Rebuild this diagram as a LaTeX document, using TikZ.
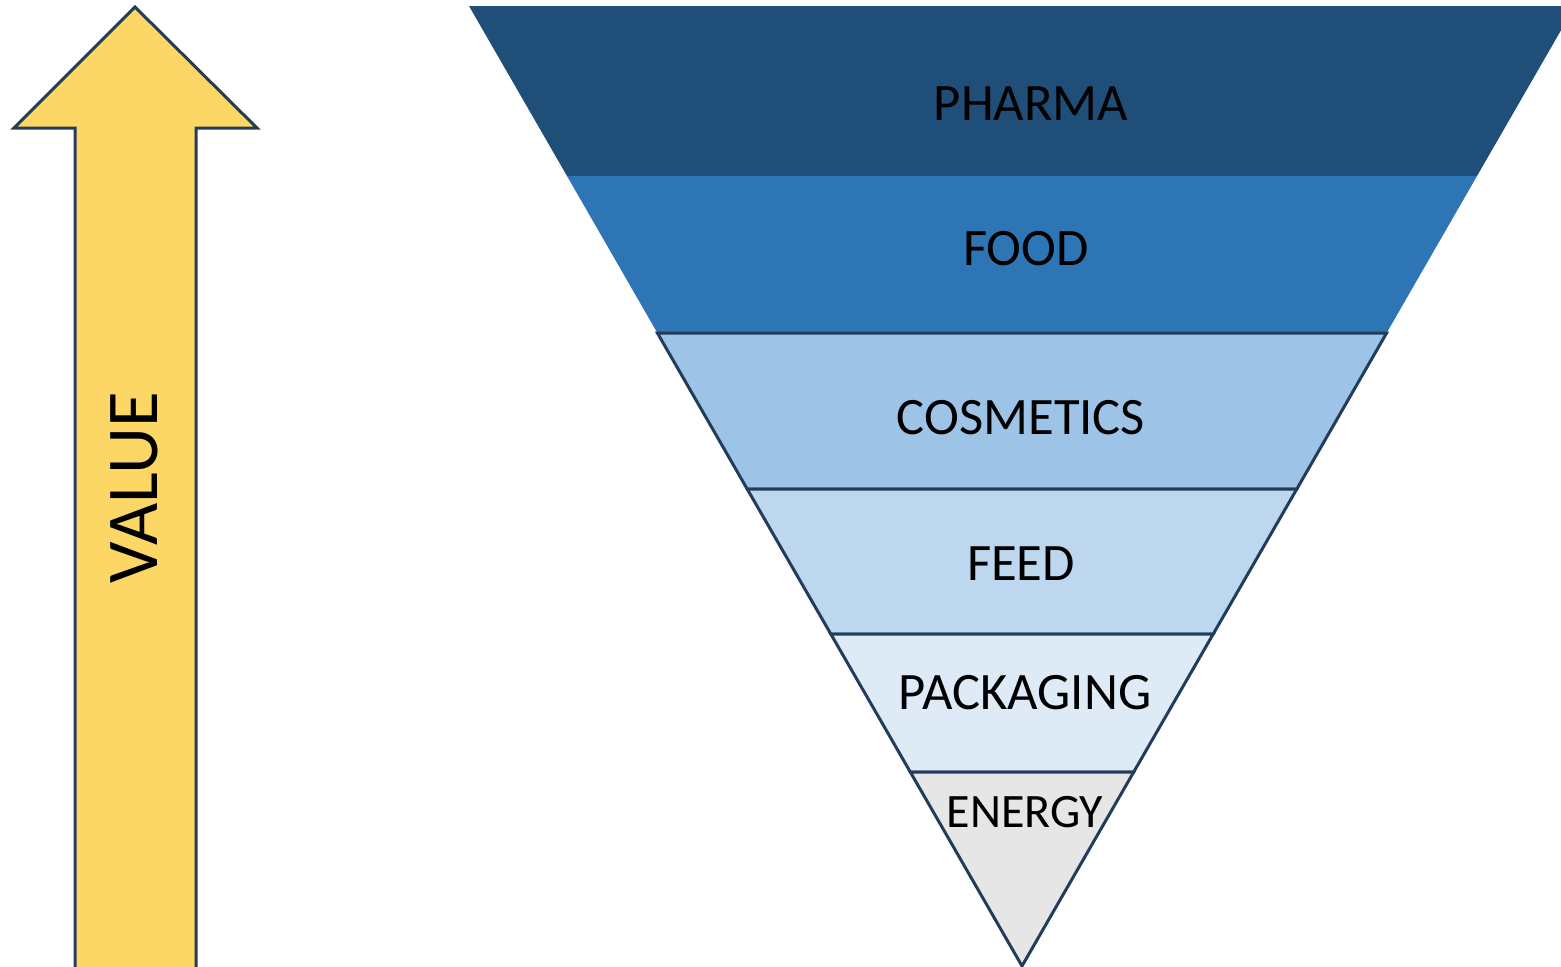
\documentclass[tikz,border=0pt]{standalone}
\usepackage{fontspec}
\setmainfont{Carlito}
\definecolor{pharmablue}{HTML}{1F4E79}
\definecolor{foodblue}{HTML}{2E75B6}
\definecolor{cosmblue}{HTML}{9DC3E6}
\definecolor{feedblue}{HTML}{BDD7EE}
\definecolor{packblue}{HTML}{DEEBF7}
\definecolor{energygray}{HTML}{E6E6E6}
\definecolor{valueyellow}{HTML}{FDD766}
\definecolor{edgenavy}{HTML}{223C5C}
\begin{document}
\begin{tikzpicture}[x=0.5pt,y=-0.5pt,
  band/.style={draw=edgenavy,line width=1.5pt,line join=miter},
  lbl/.style={font=\fontsize{26.3}{30}\selectfont,inner sep=0pt}]

  \useasboundingbox (0,0) rectangle (1561,966);
  \clip (0,0) rectangle (1561,966);

  % value arrow
  \draw[fill=valueyellow,draw=edgenavy,line width=1.5pt,line join=miter]
    (135,7) -- (257,128) -- (196,128) -- (196,975) -- (75,975)
    -- (75,128) -- (14,128) -- cycle;
  \node[rotate=90,font=\fontsize{36.5}{40}\selectfont,inner sep=0pt]
    (value) at (134,488) {VALUE};

  % funnel, top to bottom
  \fill[pharmablue] (469,6) -- (1575,6) -- (1477,176) -- (567,176) -- cycle;
  \fill[foodblue] (567,176) -- (1477,176) -- (1386.6,333) -- (657.4,333) -- cycle;
  \draw[band,fill=cosmblue] (657.4,333) -- (1386.6,333) -- (1296.8,489)
    -- (747.2,489) -- cycle;
  \draw[band,fill=feedblue] (747.2,489) -- (1296.8,489) -- (1213.2,634)
    -- (830.8,634) -- cycle;
  \draw[band,fill=packblue] (830.8,634) -- (1213.2,634) -- (1133.7,772)
    -- (910.3,772) -- cycle;
  \draw[band,fill=energygray] (910.3,772) -- (1133.7,772) -- (1022,966) -- cycle;

  \node[lbl] (pharma) at (1031,104) {PHARMA};
  \node[lbl] (food) at (1026,249) {FOOD};
  \node[lbl] (cosmetics) at (1021,418) {COSMETICS};
  \node[lbl] (feed) at (1021,564) {FEED};
  \node[lbl] (packaging) at (1025,693) {PACKAGING};
  \node[lbl,font=\fontsize{24}{28}\selectfont] (energy) at (1025,812) {ENERGY};

\end{tikzpicture}
\end{document}
